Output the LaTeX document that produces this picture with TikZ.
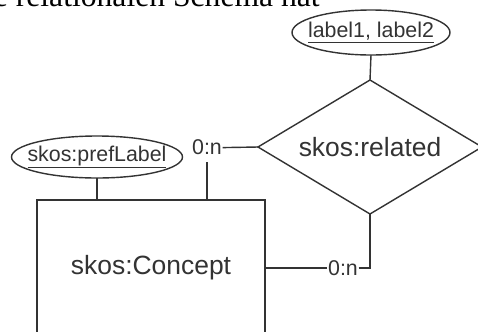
\documentclass[tikz,border=0pt]{standalone}
\usepackage{fontspec}
\setmainfont{Liberation Sans}
\newfontfamily\serifcaption{Liberation Serif}
\usetikzlibrary{shapes.geometric, positioning, calc}

% text of fixed zero width, so the ellipse keeps its given size
\newcommand{\keyattr}[1]{\makebox[0pt]{\underline{#1}}}

\tikzset{
	entity/.style={draw=black!80, rectangle, line width=1pt, outer sep=0pt, text=black!80, font=\fontsize{18.8}{22}\selectfont},
	attrib/.style={draw=black!80, ellipse, line width=1pt, inner sep=0pt, outer sep=0pt, text=black!80, font=\fontsize{15.2}{18}\selectfont},
	relship/.style={draw=black!80, diamond, line width=1pt, inner sep=0pt, outer sep=0pt, aspect=1.67, text=black!80, font=\fontsize{18.8}{22}\selectfont},
	card/.style={inner xsep=0.5pt, inner ysep=5pt, outer sep=0pt, text=black!80, font=\fontsize{15.2}{18}\selectfont},
	link/.style={draw=black!80, line width=1pt}
}

\begin{document}
\begin{tikzpicture}
		\path[use as bounding box] (0,0) rectangle (11.95,-8.275);

		% cut-off line of the surrounding text
		\node (Caption) at (8.0,-0.17) [anchor=base east, inner sep=0pt, font=\serifcaption\fontsize{22.5}{26}\selectfont]{e relationalen Schema hat};

		% Concept entity (runs off the bottom)
		\node (ConceptBox) at (3.775,-6.7) [entity, minimum width=5.7cm, minimum height=3.4cm]{skos:Concept};

		% prefLabel attribute
		\node (PrefLabel) at (2.425,-3.925) [attrib, minimum width=4.275cm, minimum height=1.05cm]{\keyattr{skos:prefLabel}};
		\draw[link] (PrefLabel.south) -- (PrefLabel.south |- ConceptBox.north);

		% related relationship
		\node (RelatedDiamond) at (9.25,-3.675) [relship, minimum width=5.6cm, minimum height=3.35cm]{skos:related};
		\node (RelLabels) at ($(RelatedDiamond)+(0.025,2.8625)$) [attrib, minimum width=3.95cm, minimum height=1.125cm]{\keyattr{label1, label2}};
		\draw[link] (RelLabels.south) -- (RelatedDiamond.north);

		% cardinalities
		\node (CardTop) at (5.175,-3.69) [card]{0:n};
		\draw[link] (CardTop.east) -- (RelatedDiamond.west);
		\draw[link] (CardTop.south) -- (CardTop.south |- ConceptBox.north);

		\node (CardBottom) at ($(ConceptBox)+(4.8,0)$) [card]{0:n};
		\draw[link] (ConceptBox.east) -- (CardBottom.west);
		\draw[link] (CardBottom.east) -| (RelatedDiamond.south);
\end{tikzpicture}
\end{document}
